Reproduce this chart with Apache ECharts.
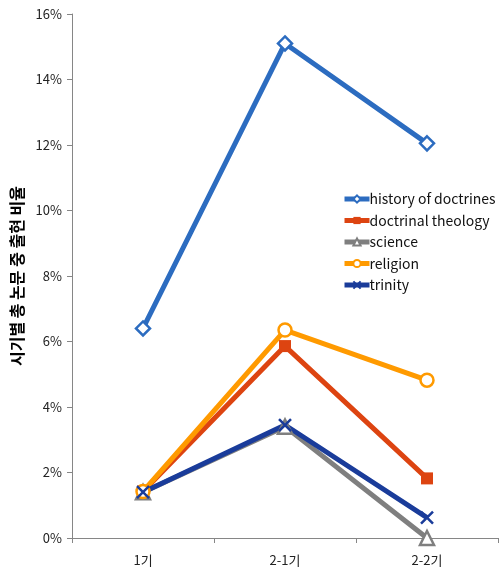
<!DOCTYPE html>
<html><head><meta charset="utf-8">
<script src="https://cdn.jsdelivr.net/npm/echarts@6/dist/echarts.min.js"></script>
<style>html,body{margin:0;padding:0;background:#fff}#c{width:499px;height:574px}</style>
</head><body><div id="c"></div>
<script>
var categories = ['1기', '2-1기', '2-2기'];
var historyOfDoctrines = [6.4, 15.1, 12.05];
var doctrinalTheology = [1.42, 5.86, 1.82];
var science = [1.4, 3.4, 0];
var religion = [1.42, 6.35, 4.82];
var trinity = [1.4, 3.45, 0.62];
var yTicks = [0, 2, 4, 6, 8, 10, 12, 14, 16];

var xPath = 'path://M0,0L10,10M10,0L0,10';
var font = '"Noto Sans CJK KR", "Noto Sans", sans-serif';

function ser(name, data, color, symbol, size, filled, extra) {
  var s = {
    name: name, type: 'line', data: data,
    symbol: symbol, symbolSize: size,
    lineStyle: {color: color, width: 5},
    itemStyle: filled ? {color: color, borderColor: color, borderWidth: 0}
                      : {color: '#fff', borderColor: color, borderWidth: 2.5},
    emphasis: {disabled: true}
  };
  if (extra) Object.assign(s.itemStyle, extra);
  return s;
}

var chart = echarts.init(document.getElementById('c'));
chart.setOption({
  animation: false,
  textStyle: {fontFamily: font},
  grid: {left: 72, right: 1, top: 14, bottom: 36},
  legend: {
    orient: 'vertical', left: 337, top: 187, itemGap: 7.5,
    itemWidth: 25, itemHeight: 9,
    lineStyle: {width: 5},
    textStyle: {fontSize: 14, color: '#111', fontFamily: font, padding: [0,0,0,-5]},
    data: ['history of doctrines', 'doctrinal theology', 'science', 'religion', 'trinity']
  },
  xAxis: {
    type: 'category', data: categories, boundaryGap: true,
    axisLine: {lineStyle: {color: '#868686', width: 1}},
    axisTick: {show: true, length: 5, lineStyle: {color: '#868686'}},
    axisLabel: {fontSize: 13, color: '#222', margin: 16, fontFamily: font}
  },
  yAxis: {
    type: 'value', min: 0, max: 16, interval: 2,
    name: '시기별 총 논문 중 출현 비율', nameLocation: 'middle', nameGap: 46,
    nameTextStyle: {fontSize: 16, fontWeight: 'bold', color: '#000', fontFamily: font},
    axisLine: {show: true, lineStyle: {color: '#868686', width: 1}},
    axisTick: {show: true, length: 5, lineStyle: {color: '#868686'}},
    splitLine: {show: false},
    axisLabel: {fontSize: 13, color: '#222', margin: 10, fontFamily: font,
      formatter: function (v) { return yTicks.indexOf(v) >= 0 ? v + '%' : ''; }}
  },
  series: [
    ser('history of doctrines', historyOfDoctrines, '#2C6CC0', 'diamond', 14, false),
    ser('doctrinal theology', doctrinalTheology, '#DD4411', 'rect', 12, true),
    ser('science', science, '#7F7F7F', 'triangle', 14, false),
    ser('religion', religion, '#FF9A00', 'circle', 13, false),
    ser('trinity', trinity, '#1A3C9A', xPath, 12, false, {borderWidth: 2.5, color: 'none'})
  ]
});
</script></body></html>
